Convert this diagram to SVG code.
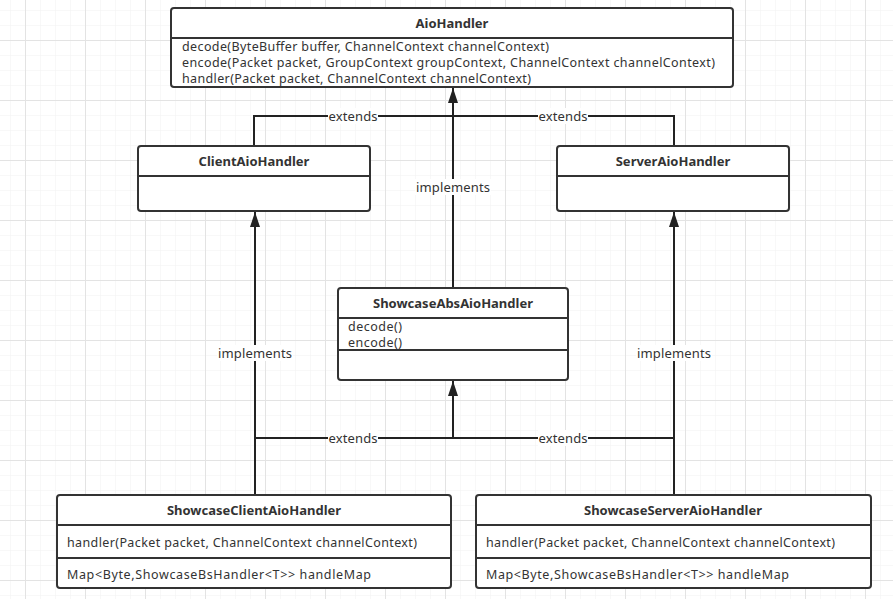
<svg xmlns="http://www.w3.org/2000/svg" width="893" height="599" viewBox="0 0 893 599">
<style>
.box{fill:#fff;stroke:#333;stroke-width:2}
.div{stroke:#333;stroke-width:2;fill:none}
.title{font-family:"Noto Sans","Open Sans",sans-serif;font-size:13px;font-weight:bold;fill:#333;text-anchor:middle}
.txt{font-family:"Noto Sans","Open Sans",sans-serif;font-size:12.5px;fill:#333}
.lbl{font-family:"Noto Sans","Open Sans",sans-serif;font-size:13px;fill:#333;text-anchor:middle}
.edge{stroke:#222;stroke-width:2;fill:none}
.lblbg{fill:#fff}
</style>
<defs>
<pattern id="minor" x="10" y="10" width="15" height="15" patternUnits="userSpaceOnUse">
<path d="M0 0H15M0 0V15" stroke="#f1f1f1" stroke-width="1" fill="none"/>
</pattern>
<pattern id="major" x="25" y="40" width="60" height="60" patternUnits="userSpaceOnUse">
<path d="M0 0.5H60M0.5 0V60" stroke="#e3e3e3" stroke-width="1" fill="none"/>
</pattern>
<marker id="arr" markerWidth="16" markerHeight="10" refX="15" refY="5" orient="auto" markerUnits="userSpaceOnUse" viewBox="0 0 16 10">
<path d="M0 0 L15 5 L0 10 Z" fill="#222"/>
</marker>
</defs>
<rect width="893" height="599" fill="#fff"/>
<rect width="893" height="599" fill="url(#minor)"/>
<rect width="893" height="599" fill="url(#major)"/>

<g id="connectors">
<path class="edge" d="M453 288 V88" marker-end="url(#arr)"/>
<path class="edge" d="M254 146 V116 H674 V146"/>
<path class="edge" d="M255 495 V212" marker-end="url(#arr)"/>
<path class="edge" d="M674 495 V212" marker-end="url(#arr)"/>
<path class="edge" d="M255 495 V438 H674 V495"/>
<path class="edge" d="M453 438 V381" marker-end="url(#arr)"/>
<rect class="lblbg" x="328" y="108" width="50" height="16"/>
<text class="lbl" x="353" y="120.5" textLength="49">extends</text>
<rect class="lblbg" x="538" y="108" width="50" height="16"/>
<text class="lbl" x="563" y="120.5" textLength="49">extends</text>
<rect class="lblbg" x="415" y="179" width="76" height="16"/>
<text class="lbl" x="453" y="191.5" textLength="74">implements</text>
<rect class="lblbg" x="217" y="345" width="76" height="16"/>
<text class="lbl" x="255" y="357.5" textLength="74">implements</text>
<rect class="lblbg" x="636" y="345" width="76" height="16"/>
<text class="lbl" x="674" y="357.5" textLength="74">implements</text>
<rect class="lblbg" x="328" y="430" width="50" height="16"/>
<text class="lbl" x="353" y="442.5" textLength="49">extends</text>
<rect class="lblbg" x="538" y="430" width="50" height="16"/>
<text class="lbl" x="563" y="442.5" textLength="49">extends</text>
</g>

<g id="AioHandler">
<rect class="box" x="171" y="8" width="562" height="79" rx="3"/>
<path class="div" d="M171 38 H733"/>
<text class="title" x="452" y="27.5">AioHandler</text>
<text class="txt" x="182" y="50.5" textLength="367">decode(ByteBuffer buffer, ChannelContext channelContext)</text>
<text class="txt" x="182" y="66.5" textLength="533">encode(Packet packet, GroupContext groupContext, ChannelContext channelContext)</text>
<text class="txt" x="182" y="82.5" textLength="349">handler(Packet packet, ChannelContext channelContext)</text>
</g>

<g id="ClientAioHandler">
<rect class="box" x="138" y="146" width="232" height="65" rx="3"/>
<path class="div" d="M138 176 H370"/>
<text class="title" x="254" y="166">ClientAioHandler</text>
</g>

<g id="ServerAioHandler">
<rect class="box" x="557" y="146" width="232" height="65" rx="3"/>
<path class="div" d="M557 176 H789"/>
<text class="title" x="673" y="166">ServerAioHandler</text>
</g>

<g id="ShowcaseAbsAioHandler">
<rect class="box" x="338" y="288" width="230" height="92" rx="3"/>
<path class="div" d="M338 318 H568"/>
<path class="div" d="M338 350 H568"/>
<text class="title" x="453" y="307.5">ShowcaseAbsAioHandler</text>
<text class="txt" x="348" y="330.5" textLength="54">decode()</text>
<text class="txt" x="348" y="346.5" textLength="54">encode()</text>
</g>

<g id="ShowcaseClientAioHandler">
<rect class="box" x="57" y="495" width="394" height="93" rx="3"/>
<path class="div" d="M57 525 H451"/>
<path class="div" d="M57 558 H451"/>
<text class="title" x="254" y="515">ShowcaseClientAioHandler</text>
<text class="txt" x="67" y="546.5" textLength="350">handler(Packet packet, ChannelContext channelContext)</text>
<text class="txt" x="67" y="578.5" textLength="304">Map&lt;Byte,ShowcaseBsHandler&lt;T&gt;&gt; handleMap</text>
</g>

<g id="ShowcaseServerAioHandler">
<rect class="box" x="476" y="495" width="395" height="93" rx="3"/>
<path class="div" d="M476 525 H871"/>
<path class="div" d="M476 558 H871"/>
<text class="title" x="673" y="515">ShowcaseServerAioHandler</text>
<text class="txt" x="486" y="546.5" textLength="349">handler(Packet packet, ChannelContext channelContext)</text>
<text class="txt" x="486" y="578.5" textLength="303">Map&lt;Byte,ShowcaseBsHandler&lt;T&gt;&gt; handleMap</text>
</g>
</svg>
